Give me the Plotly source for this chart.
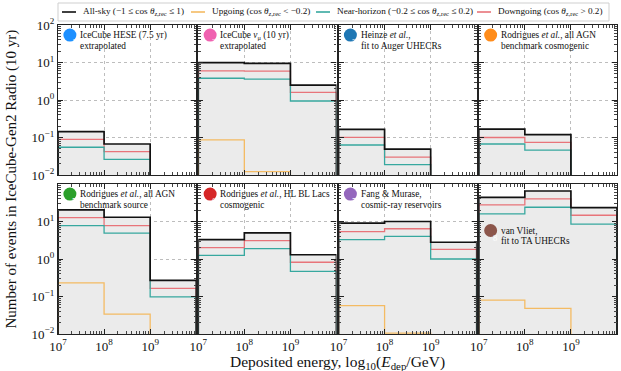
import plotly.graph_objects as go
from plotly.subplots import make_subplots

# Energy bin edges (GeV)
bin_edges = [1e7, 1e8, 1e9, 1e10]

# Panel captions (two lines each) and badge colours
panel_line1 = [
    "IceCube HESE (7.5 yr)",
    "IceCube <i>ν</i><sub>μ</sub> (10 yr)",
    "Heinze <i>et al.</i>,",
    "Rodrigues <i>et al.</i>, all AGN",
    "Rodrigues <i>et al.</i>, all AGN",
    "Rodrigues <i>et al.</i>, HL BL Lacs",
    "Fang &amp; Murase,",
    "van Vliet,",
]
panel_line2 = [
    "extrapolated",
    "extrapolated",
    "fit to Auger UHECRs",
    "benchmark cosmogenic",
    "benchmark source",
    "cosmogenic",
    "cosmic-ray reservoirs",
    "fit to TA UHECRs",
]
badge_colors = ["#1e90ff", "#f062b0", "#1f77b4", "#ff8c1a",
                "#2ca02c", "#d62728", "#9467bd", "#8c564b"]
# caption position inside each panel (fraction of panel height, line 1)
caption_y = [0.933, 0.933, 0.933, 0.933, 0.933, 0.933, 0.933, 0.69]

# Expected event counts per bin (0 = no events in range)
allsky = [
    [0.143, 0.067, 0.0],
    [9.9, 9.5, 2.5],
    [0.165, 0.049, 0.0],
    [0.167, 0.12, 0.0],
    [20.5, 13.0, 0.27],
    [3.3, 5.0, 1.3],
    [9.0, 10.0, 2.8],
    [44.0, 65.0, 23.5],
]
upgoing = [
    [0.0, 0.0, 0.0],
    [0.086, 0.0123, 0.0],
    [0.0, 0.0, 0.0],
    [0.0, 0.0, 0.0],
    [0.23, 0.034, 0.0],
    [0.0, 0.0, 0.0],
    [0.057, 0.0105, 0.0],
    [0.080, 0.048, 0.0],
]
horizon = [
    [0.055, 0.026, 0.0],
    [3.8, 3.6, 0.94],
    [0.063, 0.019, 0.0],
    [0.067, 0.046, 0.0],
    [7.8, 4.9, 0.098],
    [1.25, 1.9, 0.47],
    [3.3, 4.0, 1.0],
    [16.0, 24.0, 8.5],
]
downgoing = [
    [0.089, 0.042, 0.0],
    [6.0, 5.9, 1.6],
    [0.101, 0.030, 0.0],
    [0.10, 0.074, 0.0],
    [12.7, 7.8, 0.164],
    [2.0, 3.1, 0.82],
    [5.4, 6.4, 1.8],
    [27.7, 40.0, 14.7],
]

series_names = [
    "All-sky (−1 ≤ cos <i>θ</i><sub>z,rec</sub> ≤ 1)",
    "Upgoing (cos <i>θ</i><sub>z,rec</sub> &lt; −0.2)",
    "Near-horizon (−0.2 ≤ cos <i>θ</i><sub>z,rec</sub> ≤ 0.2)",
    "Downgoing (cos <i>θ</i><sub>z,rec</sub> &gt; 0.2)",
]
series_data = [allsky, upgoing, horizon, downgoing]
series_colors = ["#111111", "#f4bb63", "#37a89f", "#e8747a"]
series_widths = [1.7, 1.3, 1.3, 1.3]

FLOOR = 1e-5  # below the axis range; stands in for empty bins on a log scale


def step_path(edges, values):
    """Outline of a step histogram that starts and ends at the floor."""
    xs, ys = [edges[0]], [FLOOR]
    for i, v in enumerate(values):
        h = v if v > 0 else FLOOR
        xs += [edges[i], edges[i + 1]]
        ys += [h, h]
    xs.append(edges[-1])
    ys.append(FLOOR)
    return xs, ys


FONT = "Liberation Serif"
W, H = 621, 371
ml, mr, mt, mb = 58, 4, 25, 37
PW, PH = W - ml - mr, H - mt - mb


def px_x(px):
    return (px - ml) / PW


def px_y(py):
    return 1 - (py - mt) / PH


fig = make_subplots(rows=2, cols=4, horizontal_spacing=2 / PW,
                    vertical_spacing=9 / PH)

for p in range(8):
    r, c = p // 4 + 1, p % 4 + 1
    # grey shading under the all-sky histogram
    fx, fy = step_path(bin_edges, allsky[p])
    fig.add_trace(go.Scatter(x=fx, y=fy, mode="lines", fill="toself",
                             fillcolor="#ebebeb", line=dict(width=0),
                             showlegend=False, hoverinfo="skip"), row=r, col=c)
    # draw order: down, horizon, up, then all-sky on top
    for idx in [3, 2, 1, 0]:
        sx, sy = step_path(bin_edges, series_data[idx][p])
        fig.add_trace(go.Scatter(x=sx, y=sy, mode="lines", name=series_names[idx],
                                 line=dict(color=series_colors[idx],
                                           width=series_widths[idx]),
                                 showlegend=False), row=r, col=c)

x_vals = [1e7, 1e8, 1e9, 1e10]
x_text = ["10<sup>7</sup>", "10<sup>8</sup>", "10<sup>9</sup>", "10<sup>10</sup>"]
y_vals = [1e-2, 1e-1, 1, 10, 100]
y_text = ["10<sup>−2</sup>", "10<sup>−1</sup>", "10<sup>0</sup>",
          "10<sup>1</sup>", "10<sup>2</sup>"]

axis_common = dict(type="log", showline=True, linecolor="#222", linewidth=1.2,
                   mirror="ticks", ticks="inside", ticklen=5, tickcolor="#222",
                   showgrid=True, gridcolor="#bdbdbd", griddash="dot", gridwidth=0.8,
                   zeroline=False,
                   minor=dict(ticks="inside", ticklen=2.5, tickcolor="#444",
                              showgrid=False, dtick="D1"),
                   tickfont=dict(family=FONT, size=13, color="#111"))

for p in range(8):
    r, c = p // 4 + 1, p % 4 + 1
    if r == 2:
        n = 4 if c == 4 else 3
        fig.update_xaxes(axis_common, range=[7, 10], tickmode="array",
                         tickvals=x_vals[:n], ticktext=x_text[:n], row=r, col=c)
    else:
        fig.update_xaxes(axis_common, range=[7, 10], tickmode="array",
                         tickvals=x_vals, showticklabels=False, row=r, col=c)
    if c == 1:
        n = 5 if r == 1 else 4
        fig.update_yaxes(axis_common, range=[-2, 2], tickmode="array",
                         tickvals=y_vals[:n], ticktext=y_text[:n], row=r, col=c)
    else:
        fig.update_yaxes(axis_common, range=[-2, 2], tickmode="array",
                         tickvals=y_vals, showticklabels=False, row=r, col=c)

# numbered badges and two-line panel captions
for p in range(8):
    xa = "x" if p == 0 else f"x{p + 1}"
    ya = "y" if p == 0 else f"y{p + 1}"
    cy = caption_y[p]
    fig.add_shape(type="circle", xref=f"{xa} domain", yref=f"{ya} domain",
                  xsizemode="pixel", ysizemode="pixel", xanchor=0.086, yanchor=cy,
                  x0=-6.5, x1=6.5, y0=-6.5, y1=6.5,
                  fillcolor=badge_colors[p], line=dict(width=0), layer="above")
    fig.add_annotation(xref=f"{xa} domain", yref=f"{ya} domain", x=0.086, y=cy,
                       text=str(p + 1), showarrow=False,
                       font=dict(family=FONT, size=8.5, color="white"))
    fig.add_annotation(xref=f"{xa} domain", yref=f"{ya} domain", x=0.145, y=cy,
                       xanchor="left", yanchor="middle", text=panel_line1[p],
                       showarrow=False, font=dict(family=FONT, size=9.3, color="#111"))
    fig.add_annotation(xref=f"{xa} domain", yref=f"{ya} domain", x=0.145, y=cy - 0.072,
                       xanchor="left", yanchor="middle", text=panel_line2[p],
                       showarrow=False, font=dict(family=FONT, size=9.3, color="#111"))

# single-row legend box along the top
fig.add_shape(type="rect", xref="paper", yref="paper",
              x0=px_x(58), x1=px_x(609), y0=px_y(21), y1=px_y(3),
              line=dict(color="#cfcfcf", width=1), fillcolor="white")
legend_line_px = [62, 191, 316, 477]
for i in range(4):
    x0 = legend_line_px[i]
    fig.add_shape(type="line", xref="paper", yref="paper",
                  x0=px_x(x0), x1=px_x(x0 + 14), y0=px_y(12), y1=px_y(12),
                  line=dict(color=series_colors[i], width=1.6))
    fig.add_annotation(xref="paper", yref="paper", x=px_x(x0 + 19), y=px_y(12),
                       xanchor="left", yanchor="middle", text=series_names[i],
                       showarrow=False, font=dict(family=FONT, size=9.2, color="#111"))

fig.add_annotation(xref="paper", yref="paper", x=0.5, y=px_y(362), yanchor="middle",
                   text="Deposited energy, log<sub>10</sub>(<i>E</i><sub>dep</sub>/GeV)",
                   showarrow=False, font=dict(family=FONT, size=15.5, color="#111"))
fig.add_annotation(xref="paper", yref="paper", x=px_x(11), y=0.5, textangle=-90,
                   xanchor="center", yanchor="middle",
                   text="Number of events in IceCube-Gen2 Radio (10 yr)",
                   showarrow=False, font=dict(family=FONT, size=15, color="#111"))

fig.update_layout(
    width=W, height=H, margin=dict(l=ml, r=mr, t=mt, b=mb),
    paper_bgcolor="white", plot_bgcolor="white",
    font=dict(family=FONT, color="#111"),
    showlegend=False,
)

fig.write_html("out.html")
